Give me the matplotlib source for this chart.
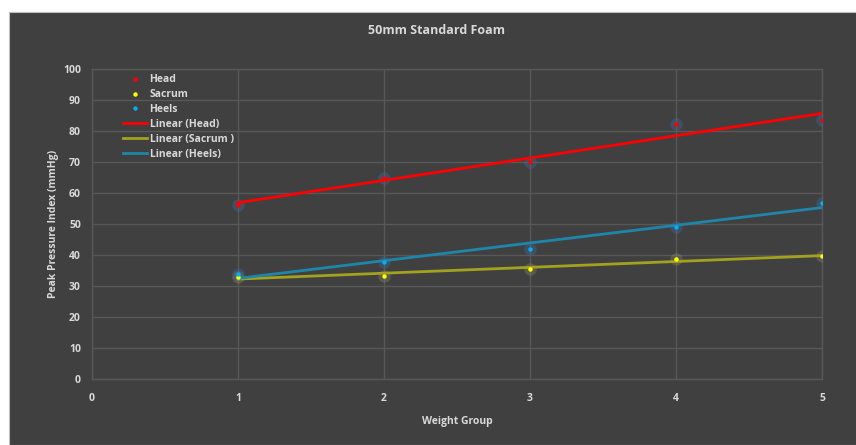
import matplotlib.pyplot as plt
import numpy as np
from matplotlib.patches import Rectangle

weight_group = [1, 2, 3, 4, 5]
head = [56.1, 64.8, 69.9, 82.2, 83.4]
sacrum = [33.0, 33.3, 35.4, 38.6, 39.8]
heels = [33.9, 37.7, 42.0, 49.0, 56.8]

bg = '#404040'
grid_c = '#585858'
text_c = '#d9d9d9'

plt.rcParams['font.family'] = ['Open Sans', 'DejaVu Sans']
plt.rcParams['font.weight'] = 'bold'

fig = plt.figure(figsize=(8.56, 4.45), dpi=100, facecolor='white')
fig.patches.append(Rectangle((9 / 856, 0), 1, 1 - 12 / 445, transform=fig.transFigure,
                             facecolor=bg, edgecolor='#bfbfbf', linewidth=0.8, zorder=-10))

ax = fig.add_axes([92 / 856, 66 / 445, 730 / 856, 310 / 445])
ax.set_zorder(1)
ax.set_facecolor(bg)

series = [
    ('Head', head, 'red', '#3d6ea8', 'red', 'Linear (Head)'),
    ('Sacrum', sacrum, '#ffff00', '#8a8a6a', '#a3a21f', 'Linear (Sacrum )'),
    ('Heels', heels, '#00b0f0', '#3d6ea8', '#1f86ab', 'Linear (Heels)'),
]

pts = []
fits = []
for name, vals, col, glow, lcol, lname in series:
    # soft glow behind each point
    ax.plot(weight_group, vals, 'o', color=glow, markersize=9, alpha=0.35,
            markeredgewidth=0, zorder=3)
    p, = ax.plot(weight_group, vals, 'o', color=col, markersize=3.2,
                 markeredgewidth=0, zorder=5, label=name)
    pts.append(p)
    k, b = np.polyfit(weight_group, vals, 1)
    xs = np.array([weight_group[0], weight_group[-1]])
    f, = ax.plot(xs, k * xs + b, color=lcol, linewidth=2, zorder=4, label=lname)
    fits.append(f)

ax.set_xlim(0, 5)
ax.set_ylim(0, 100)
ax.set_xticks(range(0, 6))
ax.set_yticks(range(0, 101, 10))
ax.grid(True, color=grid_c, linewidth=1)
ax.set_axisbelow(True)
for s in ax.spines.values():
    s.set_color(grid_c)
    s.set_linewidth(1)
ax.tick_params(length=0, colors=text_c, labelsize=7.5)
ax.tick_params(axis='x', pad=10)
ax.tick_params(axis='y', pad=8)
for lab in ax.get_xticklabels() + ax.get_yticklabels():
    lab.set_fontweight('bold')

ax.set_xlabel('Weight Group', color=text_c, fontsize=7.5, fontweight='bold', labelpad=9)
ax.set_ylabel('Peak Pressure Index (mmHg)', color=text_c, fontsize=7.5,
              fontweight='bold', labelpad=3)

fig.text(436 / 856, 1 - 30 / 445, '50mm Standard Foam', ha='center', va='center',
         color=text_c, fontsize=9, fontweight='bold')

leg = ax.legend(pts + fits, [h.get_label() for h in pts + fits], loc='upper left',
                bbox_to_anchor=(0.036, 1.0), frameon=False, fontsize=7.5,
                labelcolor=text_c, handlelength=2.3, handletextpad=0.2,
                labelspacing=0.38, borderaxespad=0.1)
for t in leg.get_texts():
    t.set_fontweight('bold')

fig.savefig('out.png', dpi=100, facecolor='white')
